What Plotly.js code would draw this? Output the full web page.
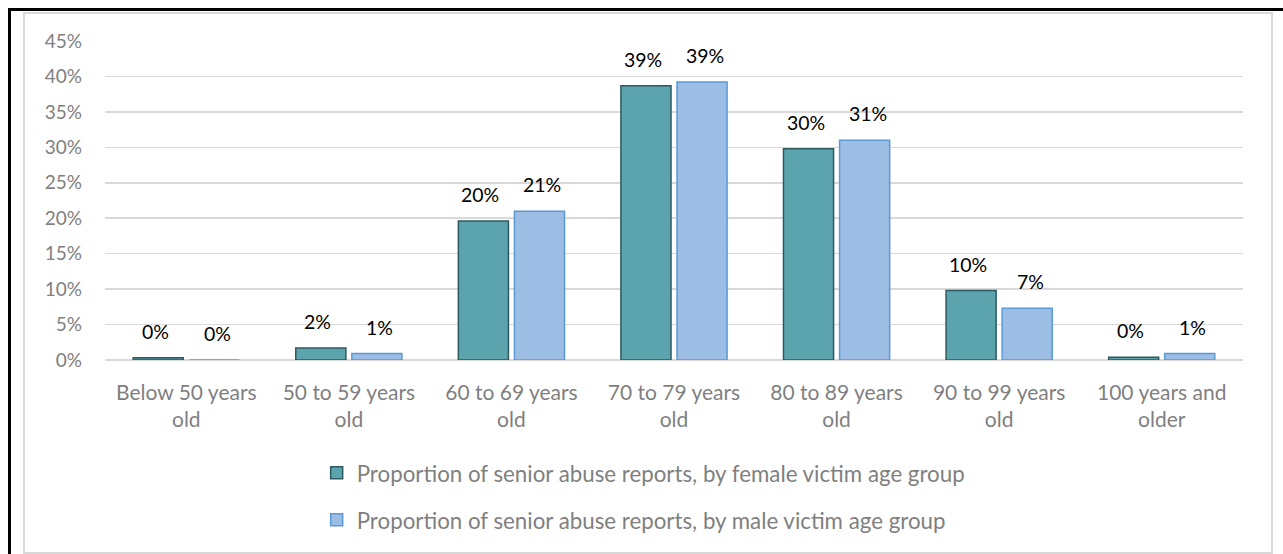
<!DOCTYPE html>
<html>
<head>
<meta charset="utf-8">
<script src="https://cdn.plot.ly/plotly-3.0.1.min.js"></script>
<style>
  html, body { margin: 0; padding: 0; background: #fff; }
  #wrap { position: relative; width: 1283px; height: 554px; overflow: hidden; }
  #chart { position: absolute; left: 0; top: 0; width: 1283px; height: 554px; }
  .blk { position: absolute; background: #000; pointer-events: none; }
  .gry { position: absolute; background: #D9D9D9; pointer-events: none; }
</style>
</head>
<body>
<div id="wrap">
  <div id="chart"></div>
  <div class="blk" style="left:8px; top:8px; width:3px; height:546px;"></div>
  <div class="blk" style="left:8px; top:8px; width:1275px; height:3px;"></div>
  <div class="gry" style="left:23px; top:12px; width:2px; height:542px;"></div>
  <div class="gry" style="left:23px; top:12px; width:1250px; height:2px;"></div>
  <div class="gry" style="left:1271px; top:12px; width:2px; height:542px;"></div>
  <div class="gry" style="left:23px; top:552px; width:1250px; height:2px;"></div>
</div>
<script>
const categories = [
  "Below 50 years<br>old",
  "50 to 59 years<br>old",
  "60 to 69 years<br>old",
  "70 to 79 years<br>old",
  "80 to 89 years<br>old",
  "90 to 99 years<br>old",
  "100 years and<br>older"
];
const femaleValues = [0.3, 1.7, 19.6, 38.7, 29.8, 9.8, 0.4];
const maleValues   = [0.0, 0.9, 21.0, 39.2, 31.0, 7.3, 0.9];
const femaleName = "Proportion of senior abuse reports, by female victim age group";
const maleName = "Proportion of senior abuse reports, by male victim age group";
const yTickVals = [0, 5, 10, 15, 20, 25, 30, 35, 40, 45];
const yTickText = yTickVals.map(v => v + "%");

const FONT = "Lato, 'Open Sans', 'Liberation Sans', sans-serif";

const traces = [
  {
    type: "bar", name: femaleName, x: categories, y: femaleValues,
    legendgroup: "f",
    marker: { color: "#5BA3AD", line: { color: "#2E5A5F", width: 1.5 } },
    hoverinfo: "skip"
  },
  {
    type: "bar", name: maleName, x: categories, y: maleValues,
    legendgroup: "m",
    marker: { color: "#9CBDE4", line: { color: "#5B9BD5", width: 1.5 } },
    hoverinfo: "skip"
  }
];

const annotations = [];
categories.forEach((c, i) => {
  annotations.push({
    x: c, y: femaleValues[i], xref: "x", yref: "y",
    text: Math.round(femaleValues[i]) + "%", showarrow: false,
    xshift: -31, yshift: 13, yanchor: "bottom",
    font: { family: FONT, size: 19.5, color: "#000" }
  });
  annotations.push({
    x: c, y: maleValues[i], xref: "x", yref: "y",
    text: Math.round(maleValues[i]) + "%", showarrow: false,
    xshift: 31, yshift: 13, yanchor: "bottom",
    font: { family: FONT, size: 19.5, color: "#000" }
  });
});

const layout = {
  width: 1283, height: 554,
  margin: { l: 105, r: 40, t: 41, b: 194 },
  paper_bgcolor: "rgba(0,0,0,0)",
  plot_bgcolor: "rgba(0,0,0,0)",
  barmode: "group",
  bargap: 0.31,
  bargroupgap: 0.107,
  font: { family: FONT, size: 18, color: "#7F7F7F" },
  xaxis: {
    type: "category",
    tickfont: { family: FONT, size: 21, color: "#7F7F7F" },
    showgrid: false, showline: false, ticks: "",
    ticklabelstandoff: 18,
    automargin: false,
    fixedrange: true
  },
  yaxis: {
    range: [0, 45],
    tickvals: yTickVals, ticktext: yTickText,
    tickfont: { family: FONT, size: 19, color: "#7F7F7F" },
    showgrid: true, gridcolor: "#D9D9D9", gridwidth: 1.5,
    zeroline: true, zerolinecolor: "#D9D9D9", zerolinewidth: 1.5,
    showline: false, ticks: "", ticklabelstandoff: 22,
    automargin: false,
    fixedrange: true
  },
  showlegend: true,
  legend: {
    orientation: "v",
    x: 0.186, xanchor: "left", xref: "paper",
    y: -0.288, yanchor: "top",
    traceorder: "grouped",
    tracegroupgap: 15,
    font: { family: FONT, size: 22.3, color: "#7F7F7F" },
    itemwidth: 30
  },
  annotations: annotations
};

Plotly.newPlot("chart", traces, layout, { displayModeBar: false, staticPlot: true });
</script>
</body>
</html>
